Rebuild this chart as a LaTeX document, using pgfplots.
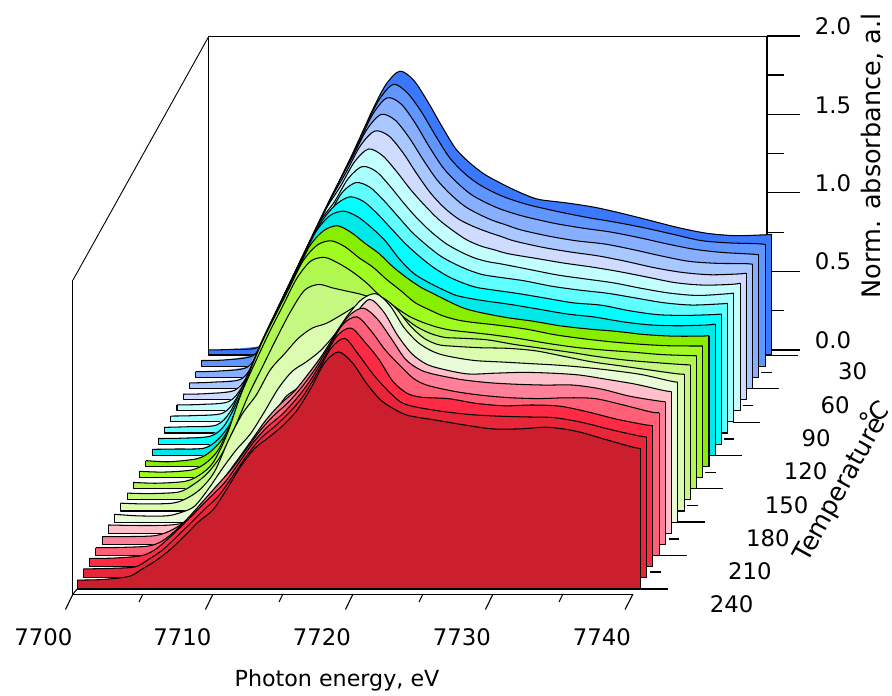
\documentclass[border=0pt]{standalone}
\usepackage{pgfplots}
\pgfplotsset{compat=1.18}
\usepackage{fontspec}
\setmainfont{DejaVu Sans}
\definecolor{c30}{HTML}{3A78FF}\definecolor{c40}{HTML}{6096FF}\definecolor{c50}{HTML}{88AEFF}
\definecolor{c60}{HTML}{A8C8FF}\definecolor{c70}{HTML}{D0DCFF}\definecolor{c80}{HTML}{C4FFFF}
\definecolor{c90}{HTML}{A8FFFF}\definecolor{c100}{HTML}{60FFFF}\definecolor{c110}{HTML}{00FFFF}
\definecolor{c120}{HTML}{00E8E8}\definecolor{c130}{HTML}{88EE00}\definecolor{c140}{HTML}{A0FC20}
\definecolor{c150}{HTML}{B0F850}\definecolor{c160}{HTML}{C4F880}\definecolor{c170}{HTML}{DCFCB0}
\definecolor{c180}{HTML}{E8FCD8}\definecolor{c190}{HTML}{FFC0CC}\definecolor{c200}{HTML}{FF8098}
\definecolor{c210}{HTML}{FF6078}\definecolor{c220}{HTML}{FF2A44}\definecolor{c230}{HTML}{E8263A}
\definecolor{c240}{HTML}{CC1F2D}
\pgfplotsset{sp/.style={no marks,forget plot,line join=round}}
% one spectrum: temperature, absorbance at 7700.3 eV, "energy above 7700 eV, absorbance" pairs, absorbance at 7740.6 eV
\newcommand\spectrum[4]{%
  \addplot3[sp,fill=c#1,draw=none] table[row sep=\\,header=false,x expr=7700+\thisrowno{0},z expr=\thisrowno{1},y expr=#1]{0.3 0\\0.3 #2\\#3 40.6 #4\\40.6 0\\};
  \addplot3[sp,fill=c#1,draw=none,smooth,tension=0.5,restrict x to domain=7706:7740] table[row sep=\\,header=false,x expr=7700+\thisrowno{0},z expr=\thisrowno{1},y expr=#1]{#3};
  \addplot3[sp,draw=black,line width=1.05pt,smooth,tension=0.5] table[row sep=\\,header=false,x expr=7700+\thisrowno{0},z expr=\thisrowno{1},y expr=#1]{0.3 #2\\#3 40.6 #4\\};
  \addplot3[sp,draw=black,line width=1.05pt] table[row sep=\\,header=false,x expr=7700+\thisrowno{0},z expr=\thisrowno{1},y expr=#1]{40.6 #4\\40.6 0\\0.3 0\\0.3 #2\\};
}
% frame pieces, given in picture pixels
\newcommand\pline[2]{\addplot3[black,line width=#1,no marks,forget plot]
  table[row sep=\\,header=false,x expr=7700+(\thisrowno{0}-73)/13.975,y expr=240,z expr=(589-\thisrowno{1})/157]{#2};}
\newcommand\fs[1]{\fontsize{#1}{#1}\selectfont}
\begin{document}
\begin{tikzpicture}
\begin{axis}[hide axis,clip=false,
  x={(13.975pt,0pt)},y={(-0.6238pt,-1.1143pt)},z={(0pt,157pt)},
  xmin=7700,xmax=7741,ymin=30,ymax=240,zmin=0,zmax=2]
\coordinate (O) at (axis cs:7694.7764,240,3.7516);
% walls
\pline{0.8pt}{209 36\\ 767 36\\}
\pline{0.9pt}{73 280\\ 209 36\\}
\pline{1pt}{73 280\\ 73 594\\}
\pline{1pt}{209 36\\ 209 352\\}
\pline{1.5pt}{767 36\\ 767 352\\}
\pline{1pt}{73 594\\ 633 594\\}
\pline{1pt}{73 594\\ 78 588\\}
% z ticks
\pline{1.2pt}{767 36\\ 800 36\\}\pline{1.1pt}{767 75\\ 784 75\\}
\pline{1.1pt}{767 114.4\\ 800 114.4\\}\pline{1.1pt}{767 153.6\\ 784 153.6\\}
\pline{1.1pt}{767 192.8\\ 800 192.8\\}\pline{1.1pt}{767 232.2\\ 784 232.2\\}
\pline{1.1pt}{767 271.4\\ 800 271.4\\}\pline{1.1pt}{767 310.7\\ 784 310.7\\}
\pline{1.1pt}{767 350\\ 800 350\\}
% temperature ticks
\pline{1.1pt}{641 589\\ 668 589\\}\pline{1.1pt}{650 572\\ 661 572\\}
\pline{1.1pt}{660 555.7\\ 687 555.7\\}\pline{1.1pt}{669 539\\ 679 539\\}
\pline{1.1pt}{678 522\\ 705 522\\}\pline{1.1pt}{687 505.7\\ 698 505.7\\}
\pline{1.1pt}{697 488.7\\ 723 488.7\\}\pline{1.1pt}{705 472.3\\ 716 472.3\\}
\pline{1.1pt}{715 455.7\\ 742 455.7\\}\pline{1.1pt}{724 439\\ 734 439\\}
\pline{1.1pt}{733 422.3\\ 760 422.3\\}\pline{1.1pt}{743 405.7\\ 753 405.7\\}
\pline{1.1pt}{752 388.7\\ 779 388.7\\}\pline{1.1pt}{761 372.3\\ 772 372.3\\}
\pline{1.1pt}{770 355.7\\ 798 355.7\\}
% energy ticks
\pline{1.1pt}{73 594\\ 65.5 609.5\\}\pline{1.1pt}{213 594\\ 205.5 609.5\\}
\pline{1.1pt}{353 594\\ 345.5 609.5\\}\pline{1.1pt}{493 594\\ 485.5 609.5\\}
\pline{1.1pt}{633 594\\ 625 609.5\\}
\pline{1.1pt}{143 594\\ 139 602\\}\pline{1.1pt}{283 594\\ 279 602\\}
\pline{1.1pt}{423 594\\ 419 602\\}\pline{1.1pt}{563 594\\ 559 602\\}
% spectra, back to front
\spectrum{30}{.032}{2 .036\\4 .055\\5 .235\\6 .43\\7 .61\\8 .805\\9 .99\\10 1.165\\11 1.35\\12 1.55\\13 1.72\\14 1.808\\15 1.75\\16 1.615\\17 1.46\\18 1.315\\19 1.225\\20 1.155\\21 1.105\\22 1.06\\23 1.02\\24 .99\\26 .968\\28 .94\\30 .90\\32 .855\\34 .81\\36 .775\\38 .76\\40 .765\\}{.768}
\spectrum{40}{.036}{2 .04\\4 .07\\5 .22\\6 .418\\7 .598\\8 .793\\9 .978\\10 1.153\\11 1.338\\12 1.53\\13 1.70\\14 1.795\\15 1.74\\16 1.62\\17 1.47\\18 1.33\\19 1.235\\20 1.165\\21 1.115\\22 1.075\\23 1.045\\24 1.02\\26 .98\\28 .945\\30 .915\\32 .88\\34 .84\\36 .80\\38 .785\\40 .78\\}{.775}
\spectrum{50}{.036}{2 .04\\4 .065\\5 .2\\6 .406\\7 .586\\8 .781\\9 .966\\10 1.141\\11 1.326\\12 1.50\\13 1.68\\14 1.78\\15 1.74\\16 1.62\\17 1.47\\18 1.335\\19 1.24\\20 1.165\\21 1.115\\22 1.075\\23 1.045\\24 1.02\\26 .98\\28 .95\\30 .925\\32 .89\\34 .85\\36 .815\\38 .795\\40 .785\\}{.78}
\spectrum{60}{.035}{2 .04\\4 .06\\5 .185\\6 .394\\7 .574\\8 .769\\9 .954\\10 1.129\\11 1.314\\12 1.48\\13 1.65\\14 1.745\\15 1.71\\16 1.60\\17 1.46\\18 1.33\\19 1.235\\20 1.16\\21 1.11\\22 1.07\\23 1.04\\24 1.01\\26 .97\\28 .94\\30 .92\\32 .885\\34 .845\\36 .81\\38 .797\\40 .795\\}{.791}
\spectrum{70}{.034}{2 .038\\4 .06\\5 .17\\6 .38\\7 .56\\8 .757\\9 .942\\10 1.117\\11 1.30\\12 1.455\\13 1.62\\14 1.71\\15 1.68\\16 1.575\\17 1.44\\18 1.315\\19 1.22\\20 1.15\\21 1.105\\22 1.07\\23 1.04\\24 1.01\\26 .97\\28 .94\\30 .915\\32 .88\\34 .84\\36 .81\\38 .795\\40 .80\\}{.805}
\spectrum{80}{.037}{2 .04\\4 .058\\5 .16\\6 .36\\7 .55\\8 .745\\9 .93\\10 1.105\\11 1.29\\12 1.43\\13 1.585\\14 1.667\\15 1.625\\16 1.525\\17 1.41\\18 1.31\\19 1.22\\20 1.15\\21 1.09\\22 1.05\\23 1.025\\24 1.0\\26 .97\\28 .94\\30 .915\\32 .885\\34 .85\\36 .815\\38 .80\\40 .805\\}{.812}
\spectrum{90}{.037}{2 .04\\4 .055\\5 .15\\6 .34\\7 .535\\8 .733\\9 .918\\10 1.093\\11 1.278\\12 1.40\\13 1.55\\14 1.626\\15 1.595\\16 1.50\\17 1.39\\18 1.29\\19 1.205\\20 1.135\\21 1.085\\22 1.045\\23 1.02\\24 1.005\\26 .97\\28 .935\\30 .91\\32 .885\\34 .85\\36 .82\\38 .805\\40 .815\\}{.82}
\spectrum{100}{.036}{2 .04\\4 .05\\5 .135\\6 .32\\7 .52\\8 .72\\9 .906\\10 1.08\\11 1.266\\12 1.38\\13 1.53\\14 1.595\\15 1.565\\16 1.48\\17 1.38\\18 1.28\\19 1.20\\20 1.13\\21 1.08\\22 1.04\\23 1.01\\24 .995\\26 .97\\28 .935\\30 .91\\32 .89\\34 .86\\36 .83\\38 .815\\40 .822\\}{.826}
\spectrum{110}{.036}{2 .038\\4 .05\\5 .115\\6 .28\\7 .50\\8 .71\\9 .894\\10 1.07\\11 1.255\\12 1.42\\13 1.525\\14 1.575\\15 1.545\\16 1.465\\17 1.37\\18 1.275\\19 1.195\\20 1.125\\21 1.07\\22 1.03\\23 1.0\\24 .985\\26 .96\\28 .93\\30 .90\\32 .885\\34 .85\\36 .825\\38 .82\\40 .825\\}{.829}
\spectrum{120}{.038}{2 .04\\4 .045\\5 .10\\6 .22\\7 .47\\8 .697\\9 .88\\10 1.057\\11 1.24\\12 1.42\\13 1.525\\14 1.555\\15 1.52\\16 1.45\\17 1.365\\18 1.25\\19 1.16\\20 1.105\\21 1.06\\22 1.02\\23 1.0\\24 .985\\26 .96\\28 .93\\30 .90\\32 .88\\34 .85\\36 .83\\38 .825\\40 .83\\}{.836}
\spectrum{130}{.037}{2 .03\\4 .05\\5 .10\\6 .205\\7 .42\\8 .665\\9 .865\\10 1.045\\11 1.22\\12 1.40\\13 1.50\\14 1.533\\15 1.49\\16 1.42\\17 1.355\\18 1.27\\19 1.20\\20 1.14\\21 1.095\\22 1.05\\23 1.01\\24 .985\\26 .95\\28 .925\\30 .895\\32 .875\\34 .86\\36 .84\\38 .83\\40 .83\\}{.833}
\spectrum{140}{.04}{2 .035\\4 .048\\5 .09\\6 .185\\7 .39\\8 .635\\9 .85\\10 1.03\\11 1.205\\12 1.38\\13 1.48\\14 1.508\\15 1.47\\16 1.40\\17 1.34\\18 1.26\\19 1.19\\20 1.115\\21 1.07\\22 1.03\\23 1.005\\24 .99\\26 .97\\28 .945\\30 .91\\32 .885\\34 .865\\36 .85\\38 .84\\40 .838\\}{.838}
\spectrum{150}{.04}{2 .035\\4 .047\\5 .085\\6 .165\\7 .345\\8 .60\\9 .80\\10 .99\\11 1.165\\12 1.34\\13 1.45\\14 1.473\\15 1.435\\16 1.38\\17 1.31\\18 1.225\\19 1.16\\20 1.10\\21 1.06\\22 1.03\\23 1.01\\24 1.0\\26 .98\\28 .955\\30 .925\\32 .90\\34 .883\\36 .87\\38 .855\\40 .848\\}{.847}
\spectrum{160}{.043}{2 .04\\4 .05\\5 .095\\6 .165\\7 .28\\8 .46\\9 .67\\10 .85\\11 1.03\\12 1.2\\13 1.335\\14 1.372\\15 1.35\\16 1.33\\17 1.31\\18 1.28\\19 1.235\\20 1.17\\21 1.104\\22 1.06\\23 1.035\\24 1.03\\26 1.02\\28 .99\\30 .965\\32 .94\\34 .912\\36 .89\\38 .875\\40 .862\\}{.86}
\spectrum{170}{.05}{2 .045\\4 .05\\5 .08\\6 .14\\7 .25\\8 .45\\9 .62\\10 .74\\11 .90\\12 1.0\\13 1.10\\14 1.165\\15 1.195\\16 1.245\\17 1.30\\18 1.365\\19 1.36\\20 1.29\\21 1.18\\22 1.10\\23 1.06\\24 1.05\\26 1.04\\28 1.036\\30 1.02\\32 .985\\34 .95\\36 .925\\38 .90\\40 .875\\}{.871}
\spectrum{180}{.05}{2 .04\\4 .04\\5 .06\\6 .10\\7 .21\\8 .34\\9 .46\\10 .56\\11 .70\\12 .85\\13 .96\\14 1.02\\15 1.09\\16 1.19\\17 1.32\\18 1.42\\19 1.455\\20 1.38\\21 1.24\\22 1.145\\23 1.09\\24 1.06\\26 1.03\\28 1.02\\30 1.01\\32 1.0\\34 .985\\36 .965\\38 .94\\40 .90\\}{.891}
\spectrum{190}{.053}{2 .05\\4 .05\\5 .055\\6 .07\\7 .10\\8 .19\\9 .36\\10 .49\\11 .61\\12 .74\\13 .87\\14 .934\\15 1.02\\16 1.14\\17 1.27\\18 1.40\\19 1.49\\20 1.41\\21 1.26\\22 1.145\\23 1.08\\24 1.05\\26 1.015\\28 1.02\\30 1.025\\32 1.02\\34 1.008\\36 .98\\38 .95\\40 .91\\}{.902}
\spectrum{200}{.05}{2 .05\\4 .055\\5 .08\\6 .13\\7 .21\\8 .31\\9 .42\\10 .54\\11 .665\\12 .79\\13 .89\\14 .97\\15 1.08\\16 1.2\\17 1.34\\18 1.46\\19 1.505\\20 1.435\\21 1.31\\22 1.18\\23 1.115\\24 1.085\\26 1.05\\28 1.03\\30 1.02\\32 1.015\\34 1.015\\36 .99\\38 .945\\40 .915\\}{.909}
\spectrum{210}{.05}{2 .052\\4 .06\\5 .09\\6 .16\\7 .25\\8 .35\\9 .45\\10 .55\\11 .67\\12 .79\\13 .89\\14 .97\\15 1.07\\16 1.19\\17 1.335\\18 1.475\\19 1.52\\20 1.43\\21 1.31\\22 1.215\\23 1.13\\24 1.085\\26 1.045\\28 1.02\\30 1.005\\32 1.0\\34 1.005\\36 1.0\\38 .96\\40 .915\\}{.91}
\spectrum{220}{.053}{2 .055\\4 .07\\5 .11\\6 .185\\7 .27\\8 .36\\9 .45\\10 .54\\11 .665\\12 .79\\13 .89\\14 .965\\15 1.06\\16 1.175\\17 1.32\\18 1.47\\19 1.52\\20 1.43\\21 1.32\\22 1.18\\23 1.105\\24 1.08\\26 1.07\\28 1.04\\30 1.025\\32 1.03\\34 1.022\\36 .985\\38 .94\\40 .905\\}{.898}
\spectrum{230}{.057}{2 .06\\4 .07\\5 .12\\6 .18\\7 .265\\8 .35\\9 .44\\10 .525\\11 .65\\12 .78\\13 .89\\14 .965\\15 1.05\\16 1.155\\17 1.30\\18 1.46\\19 1.525\\20 1.42\\21 1.30\\22 1.20\\23 1.12\\24 1.09\\26 1.06\\28 1.04\\30 1.03\\32 1.025\\34 1.02\\36 .99\\38 .945\\40 .905\\}{.898}
\spectrum{240}{.057}{2 .06\\4 .08\\5 .13\\6 .185\\7 .255\\8 .34\\9 .43\\10 .503\\11 .635\\12 .78\\13 .895\\14 .965\\15 1.04\\16 1.135\\17 1.275\\18 1.44\\19 1.51\\20 1.44\\21 1.31\\22 1.205\\23 1.145\\24 1.105\\26 1.075\\28 1.045\\30 1.02\\32 1.02\\34 1.03\\36 1.005\\38 .955\\40 .905\\}{.895}
\end{axis}
\begin{scope}[shift={(O)},x=1pt,y=-1pt]
\tikzset{lab/.style={inner sep=0pt,anchor=center,text=black}}
\foreach \t/\x in {7700/43.5,7710/182.5,7720/322,7730/462,7740/602}
  \node[lab] at (\x,637) {\fs{22.8}\t};
\foreach \t/\y in {2.0/26,1.5/105,1.0/183.5,0.5/261.7,0.0/340}
  \node[lab] at (833,\y) {\fs{22.8}\t};
\foreach \t/\x/\y in {30/852.7/371.7,60/835/405,90/816/438,120/805.7/471.7,150/786.7/505,180/768/538,210/750/571.7,240/731.7/604.7}
  \node[lab] at (\x,\y) {\fs{22.8}\t};
\node[inner sep=0pt,anchor=base] at (337,687) {\fs{22.2}Photon energy, eV};
\node[inner sep=0pt,anchor=base,rotate=90] at (880,156) {\fs{25.5}Norm. absorbance, a.l};
\node[lab,rotate=61] at (841,490) {\fs{25.5}Temperature};
\node[lab,rotate=40] at (874,415) {\fs{24.5}°C};
\end{scope}
\pgfresetboundingbox
\path[use as bounding box] (O) rectangle ++(892pt,-696pt);
\end{tikzpicture}
\end{document}
